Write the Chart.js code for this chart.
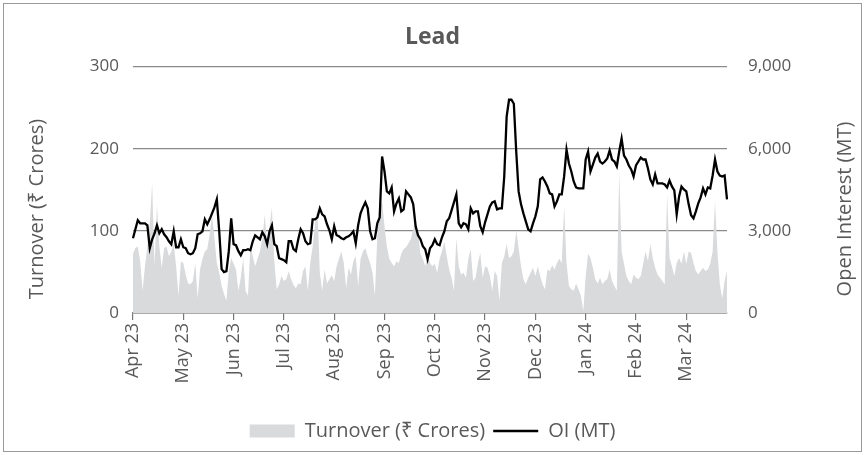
<!DOCTYPE html>
<html>
<head>
<meta charset="utf-8">
<script src="https://cdn.jsdelivr.net/npm/chart.js@4.4.1/dist/chart.umd.min.js"></script>
<style>
  html, body { margin: 0; padding: 0; background: #fff; }
  #wrap { position: relative; width: 865px; height: 455px; }
</style>
</head>
<body>
<div id="wrap"><canvas id="leadChart"></canvas></div>
<script>
// Month tick labels and how many trading days each month has on the axis
const monthLabels = ['Apr 23', 'May 23', 'Jun 23', 'Jul 23', 'Aug 23', 'Sep 23', 'Oct 23', 'Nov 23', 'Dec 23', 'Jan 24', 'Feb 24', 'Mar 24'];
const monthDays = [21, 21, 21, 21, 21, 21, 21, 21, 21, 21, 21, 18];

// Turnover (₹ Crores), one value per trading day
const turnover = [
    72, 79, 81, 63, 27, 57, 81, 110, 158, 57, 132, 81, 55, 79, 81, 69, 75, 84, 57, 21, 63,
    61, 47, 36, 35, 39, 61, 18, 53, 66, 75, 78, 96, 120, 91, 61, 49, 33, 23, 15, 51, 67,
    60, 53, 27, 43, 67, 27, 21, 81, 69, 57, 66, 75, 91, 120, 81, 106, 128, 63, 29, 35, 45,
    39, 41, 51, 41, 34, 30, 36, 35, 51, 57, 27, 61, 81, 108, 128, 49, 27, 53, 36, 41, 46,
    39, 57, 66, 75, 61, 30, 55, 47, 63, 69, 33, 66, 75, 79, 69, 61, 49, 21, 94, 124, 136,
    106, 81, 66, 61, 57, 63, 61, 72, 78, 80, 85, 90, 102, 114, 100, 72, 66, 57, 73, 61, 57,
    60, 49, 66, 75, 87, 69, 53, 43, 27, 91, 57, 47, 49, 43, 66, 78, 39, 43, 61, 73, 43,
    57, 55, 45, 27, 51, 45, 15, 61, 69, 84, 67, 69, 75, 100, 79, 57, 41, 35, 43, 49, 55,
    45, 57, 45, 35, 29, 53, 51, 58, 53, 61, 66, 61, 130, 61, 33, 29, 27, 36, 29, 21, 2,
    45, 72, 67, 55, 41, 36, 43, 35, 39, 41, 53, 39, 33, 27, 172, 75, 60, 45, 39, 35, 47,
    43, 41, 45, 60, 75, 63, 84, 67, 55, 47, 43, 39, 35, 145, 67, 57, 45, 61, 67, 60, 75,
    60, 75, 73, 61, 51, 47, 51, 55, 51, 53, 60, 75, 136, 75, 35, 18, 39, 51
];

// Open interest (MT), one value per trading day
const openInterest = [
    2730, 3058, 3385, 3276, 3276, 3276, 3203, 2366, 2694, 2912, 3203, 2912, 3058, 2876, 2766, 2621, 2512, 2985, 2402, 2402, 2694,
    2402, 2366, 2184, 2148, 2184, 2366, 2876, 2912, 2985, 3422, 3240, 3422, 3640, 3858, 4150, 2985, 1602, 1492, 1529, 2257, 3458,
    2512, 2475, 2257, 2111, 2293, 2293, 2330, 2293, 2621, 2839, 2766, 2694, 2948, 2803, 2512, 2985, 3203, 2512, 2439, 2002, 1966,
    1929, 1856, 2621, 2621, 2330, 2257, 2694, 3058, 2912, 2621, 2512, 2548, 3422, 3422, 3494, 3822, 3604, 3531, 3240, 3021, 2694,
    3167, 2839, 2803, 2730, 2694, 2766, 2803, 2876, 2985, 2548, 3203, 3640, 3858, 4040, 3822, 2985, 2694, 2730, 3276, 3494, 5715,
    5169, 4441, 4368, 4586, 3713, 4004, 4186, 3713, 3786, 4441, 4332, 4222, 3968, 3167, 2839, 2694, 2439, 2330, 1966, 2366, 2475,
    2694, 2512, 2475, 2766, 2985, 3349, 3458, 3749, 4040, 4332, 3276, 3130, 3276, 3240, 3058, 3822, 3640, 3713, 3713, 3167, 2948,
    3312, 3604, 3895, 4040, 4077, 3786, 3822, 3822, 4987, 7171, 7790, 7790, 7644, 5897, 4441, 3968, 3640, 3349, 3058, 2985, 3276,
    3531, 3895, 4878, 4950, 4805, 4623, 4368, 4332, 3895, 4077, 4332, 4332, 4987, 5970, 5460, 5169, 4805, 4586, 4550, 4550, 4550,
    5606, 5897, 5169, 5424, 5678, 5824, 5533, 5460, 5533, 5642, 5933, 5606, 5533, 5351, 5897, 6370, 5751, 5606, 5387, 5242, 4987,
    5387, 5533, 5678, 5606, 5606, 5278, 4878, 4696, 5060, 4732, 4732, 4732, 4696, 4586, 4841, 4623, 4477, 3604, 4259, 4623, 4514,
    4441, 3968, 3567, 3458, 3713, 4004, 4222, 4550, 4332, 4586, 4550, 5023, 5606, 5169, 5023, 4987, 5023, 4150
];

const leftTicks = [0, 100, 200, 300];
const rightTicks = [0, 3000, 6000, 9000];

// one category per trading day, month name only on the first day
const labels = [];
monthLabels.forEach((m, i) => {
    for (let d = 0; d < monthDays[i]; d++) {
        labels.push(d === 0 ? m : '');
    }
});

const textColor = '#595959';
const fontFamily = "'Open Sans', 'Noto Sans', sans-serif";

// frame round the whole chart and the two rotated axis titles
const framePlugin = {
    id: 'frame',
    beforeDraw(chart) {
        const ctx = chart.ctx;
        ctx.save();
        ctx.strokeStyle = '#9a9a9a';
        ctx.lineWidth = 1;
        ctx.strokeRect(3.5, 3.5, chart.width - 7, chart.height - 7);
        ctx.restore();
    },
    afterDraw(chart) {
        const ctx = chart.ctx;
        const midY = 209;
        ctx.save();
        ctx.fillStyle = textColor;
        ctx.font = '20px ' + fontFamily;
        ctx.textAlign = 'center';
        ctx.textBaseline = 'middle';
        [[37, 'Turnover (₹ Crores)'], [845, 'Open Interest (MT)']].forEach(([x, t]) => {
            ctx.save();
            ctx.translate(x, midY);
            ctx.rotate(-Math.PI / 2);
            ctx.fillText(t, 0, 0);
            ctx.restore();
        });
        ctx.restore();
    }
};

new Chart(document.getElementById('leadChart'), {
    type: 'line',
    data: {
        labels: labels,
        datasets: [
            {
                label: 'Turnover (₹ Crores)',
                data: turnover,
                yAxisID: 'y',
                backgroundColor: '#d9dadc',
                borderColor: '#d9dadc',
                borderWidth: 0,
                fill: 'origin',
                pointRadius: 0,
                pointStyle: 'rect',
                tension: 0,
                order: 2
            },
            {
                label: 'OI (MT)',
                data: openInterest,
                yAxisID: 'y1',
                borderColor: '#000000',
                backgroundColor: '#000000',
                borderWidth: 2.3,
                fill: false,
                pointRadius: 0,
                pointStyle: 'line',
                tension: 0,
                order: 1
            }
        ]
    },
    options: {
        responsive: true,
        maintainAspectRatio: false,
        animation: false,
        layout: { padding: { top: 0, left: 0, right: 0, bottom: 4 } },
        plugins: {
            title: {
                display: true,
                text: 'Lead',
                color: textColor,
                font: { family: fontFamily, size: 23, weight: 'bold' },
                padding: { top: 24, bottom: 15 }
            },
            legend: {
                position: 'bottom',
                labels: {
                    color: textColor,
                    font: { family: fontFamily, size: 20 },
                    usePointStyle: true,
                    pointStyleWidth: 45,
                    boxHeight: 13,
                    padding: 8,
                    sort: (a, b) => a.datasetIndex - b.datasetIndex
                }
            },
            tooltip: { enabled: false }
        },
        scales: {
            x: {
                type: 'category',
                offset: false,
                afterFit: s => { s.height = 100; },
                grid: { drawOnChartArea: false, drawTicks: true, tickLength: 7, color: '#777', lineWidth: 1.2 },
                border: { display: true, color: '#777', width: 1.5 },
                ticks: {
                    autoSkip: false,
                    minRotation: 90,
                    maxRotation: 90,
                    padding: 3,
                    color: textColor,
                    font: { family: fontFamily, size: 18 },
                    callback: function (val) {
                        const l = this.getLabelForValue(val);
                        return l ? l : null;
                    }
                }
            },
            y: {
                position: 'left',
                min: 0,
                max: 300,
                afterFit: s => { s.width = 133; },
                afterBuildTicks: s => { s.ticks = leftTicks.map(v => ({ value: v })); },
                z: 1,
                grid: { color: '#8a8a8a', lineWidth: 1.3, drawTicks: false },
                border: { display: false },
                ticks: { padding: 14, color: textColor, font: { family: fontFamily, size: 17 } }
            },
            y1: {
                position: 'right',
                min: 0,
                max: 9000,
                afterFit: s => { s.width = 138; },
                afterBuildTicks: s => { s.ticks = rightTicks.map(v => ({ value: v })); },
                grid: { display: false },
                border: { display: false },
                ticks: { padding: 13, color: textColor, font: { family: fontFamily, size: 17 } }
            }
        }
    },
    plugins: [framePlugin]
});
</script>
</body>
</html>
